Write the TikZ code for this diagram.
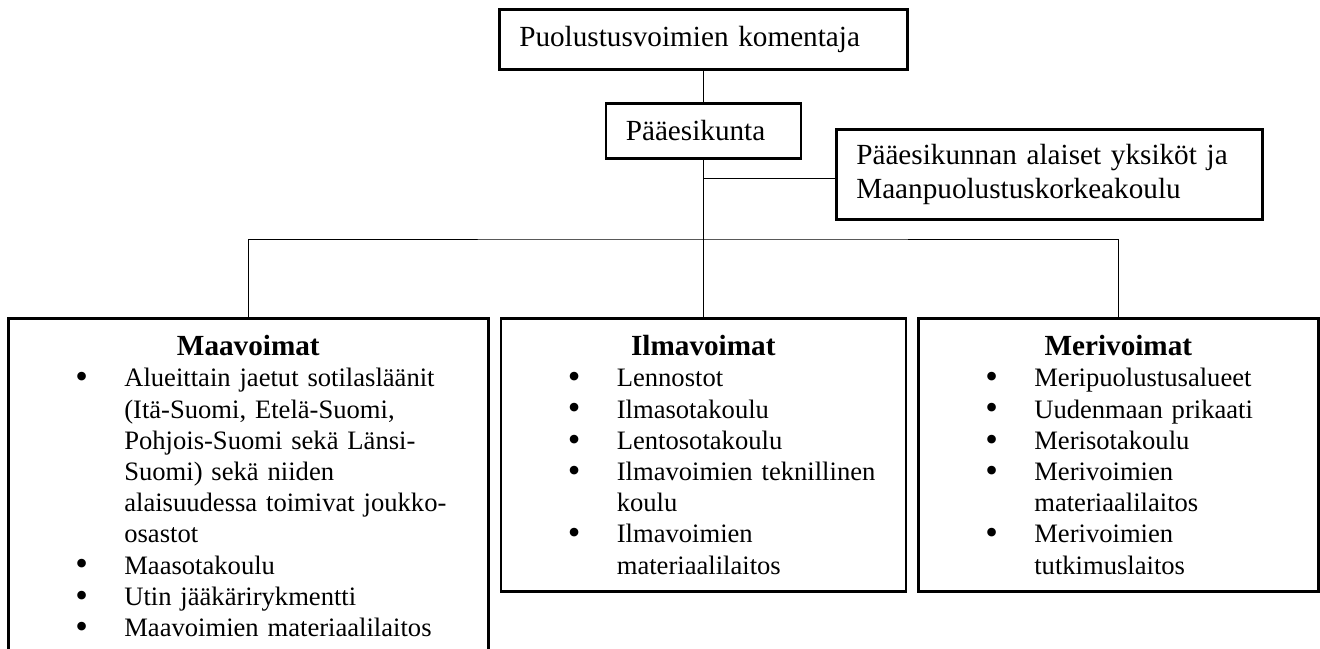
\documentclass[tikz,border=0pt]{standalone}
\usepackage{fontspec}
\setmainfont{Liberation Serif}
\usetikzlibrary{positioning}

% one bullet line of a branch list
\newcommand{\orgitem}[1]{\par\noindent\hangindent=58pt\hangafter=1\relax\hspace*{33.5pt}\makebox[24.5pt][l]{\raisebox{-0.9pt}{\fontsize{18}{15}\selectfont\textbullet}}#1}
\newcommand{\orgtitle}[1]{{\centering\noindent\fontsize{14.6}{16.9}\selectfont\textbf{#1}\par}}

\begin{document}
\begin{tikzpicture}[x=0.5pt, y=-0.5pt,
    unitbox/.style={draw, line width=1.3pt, rectangle, anchor=north west, inner sep=0pt},
    topbox/.style={unitbox, inner xsep=10pt, align=left, font=\fontsize{14.6}{16.9}\selectfont},
    listtext/.style={inner sep=0pt, font=\fontsize{13.3}{15.6}\selectfont},
    link/.style={line width=0.5pt}]

    \useasboundingbox (0,0) rectangle (1320,648);

    % Draw the upper boxes
    \node[topbox, text width=184pt, minimum height=30pt] (Komentaja) at (498,8) {Puolustusvoimien komentaja};
    \node[topbox, text width=77.5pt, minimum height=27.5pt] (Paaesikunta) at (604.5,102) {Pääesikunta};
    \node[topbox, text width=193pt, minimum height=45pt] (Alaiset) at (835,128) {Pääesikunnan alaiset yksiköt ja\\Maanpuolustuskorkeakoulu};

    % Draw the branch boxes
    \node[unitbox, minimum width=240pt, minimum height=172pt] (Maavoimat) at (7,317) {};
    \node[unitbox, minimum width=202.5pt, minimum height=136.5pt] (Ilmavoimat) at (499.5,317) {};
    \node[unitbox, minimum width=200pt, minimum height=136.5pt] (Merivoimat) at (917,317) {};

    % Fill the branch boxes
    \node[listtext, text width=240pt, below=9pt of Maavoimat.north] (MaaList) {%
        \orgtitle{Maavoimat}
        \orgitem{Alueittain jaetut sotilasläänit\newline(Itä-Suomi, Etelä-Suomi,\newline Pohjois-Suomi sekä Länsi-\newline Suomi) sekä niiden\newline alaisuudessa toimivat joukko-\newline osastot}
        \orgitem{Maasotakoulu}
        \orgitem{Utin jääkärirykmentti}
        \orgitem{Maavoimien materiaalilaitos}\par};
    \node[listtext, text width=202.5pt, below=9pt of Ilmavoimat.north] (IlmaList) {%
        \orgtitle{Ilmavoimat}
        \orgitem{Lennostot}
        \orgitem{Ilmasotakoulu}
        \orgitem{Lentosotakoulu}
        \orgitem{Ilmavoimien teknillinen\newline koulu}
        \orgitem{Ilmavoimien\newline materiaalilaitos}\par};
    \node[listtext, text width=200pt, below=9pt of Merivoimat.north] (MeriList) {%
        \orgtitle{Merivoimat}
        \orgitem{Meripuolustusalueet}
        \orgitem{Uudenmaan prikaati}
        \orgitem{Merisotakoulu}
        \orgitem{Merivoimien\newline materiaalilaitos}
        \orgitem{Merivoimien\newline tutkimuslaitos}\par};

    % Connect the boxes
    \coordinate (Haara) at (702,239);
    \coordinate (AlaisetIn) at ([yshift=-2pt]Alaiset.west);
    \draw[link] (Komentaja.south) -- (Paaesikunta.north);
    \draw[link] (Paaesikunta.south) -- (Ilmavoimat.north);
    \draw[link] (Paaesikunta.south |- AlaisetIn) -- (AlaisetIn);
    \draw[link] (Maavoimat.north) |- (Haara) -| (Merivoimat.north);

\end{tikzpicture}
\end{document}
